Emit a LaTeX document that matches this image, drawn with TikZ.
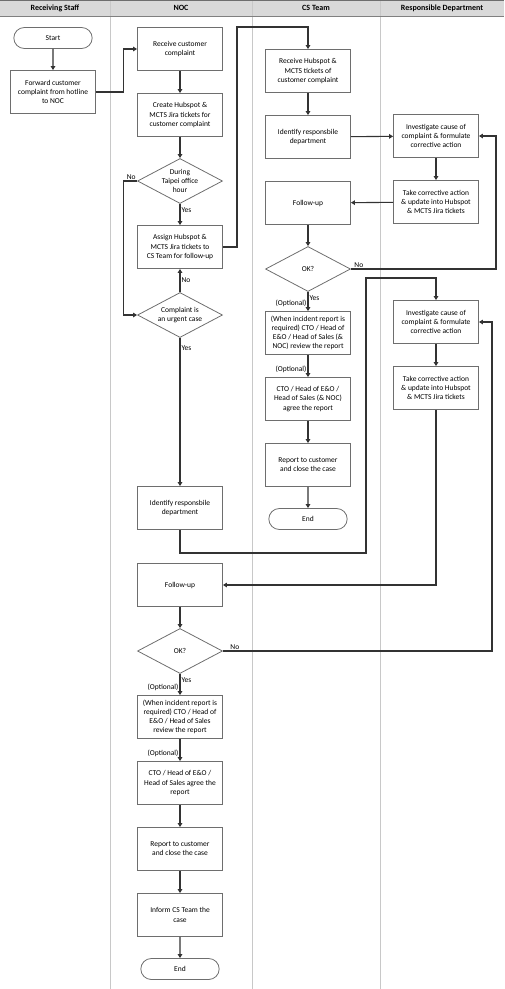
\documentclass[tikz,border=0pt]{standalone}
\usepackage{fontspec}
\setmainfont{Carlito}
\usepackage{xcolor}
\usetikzlibrary{arrows.meta, positioning, shapes.geometric, shapes.misc}
\definecolor{boxline}{HTML}{6E6E6E}
\definecolor{laneline}{HTML}{C8C8C8}
\definecolor{headfill}{HTML}{D9D9D9}
\tikzstyle{process} = [rectangle, minimum width=85pt, minimum height=43pt, align=center, draw=boxline, line width=0.8pt, font=\fontsize{7.5}{9.2}\selectfont]
\tikzstyle{decision} = [diamond, aspect=1.9, inner sep=0pt, minimum width=85pt, minimum height=45pt, align=center, draw=boxline, line width=0.8pt, font=\fontsize{7.5}{9.2}\selectfont]
\tikzstyle{terminal} = [rounded rectangle, minimum width=85pt, minimum height=21pt, draw=boxline, line width=0.8pt, font=\fontsize{7.5}{9.2}\selectfont]
\tikzstyle{arrow} = [line width=1.1pt, draw=black!80, -{Triangle[length=4pt, width=4.5pt]}]
\tikzstyle{lbl} = [font=\fontsize{7.5}{9}\selectfont, inner sep=1pt]

\begin{document}
\begin{tikzpicture}[x=1pt, y=-1pt, node distance=66pt]
\useasboundingbox (0,0) rectangle (504,989);
% Lanes
\fill[headfill] (0,0) rectangle (504,16);
\draw[laneline, line width=0.8pt] (110,0) -- (110,989) (252,0) -- (252,989) (380,0) -- (380,989);
\draw[boxline, line width=0.8pt] (0,0.5) -- (504,0.5);
\draw[black!50, line width=0.5pt] (0,16) -- (504,16);
\node[font=\bfseries\fontsize{8}{10}\selectfont] (h1) at (55,8) {Receiving Staff};
\node[font=\bfseries\fontsize{8}{10}\selectfont] (h2) at (181,8) {NOC};
\node[font=\bfseries\fontsize{8}{10}\selectfont] (h3) at (316,8) {CS Team};
\node[font=\bfseries\fontsize{8}{10}\selectfont] (h4) at (442,8) {Responsible Department};

% Receiving staff
\node (start) [terminal] at (53,38) {Start};
\node (fwd) [process, below of=start, yshift=12pt] {Forward customer\\complaint from hotline\\to NOC};

% NOC
\node (rec) [process] at (180,49) {Receive customer\\complaint};
\node (create) [process, below of=rec] {Create Hubspot \&\\MCTS Jira tickets for\\customer complaint};
\node (taipei) [decision, below of=create] {During\\Taipei office\\hour};
\node (assign) [process, below of=taipei] {Assign Hubspot \&\\MCTS Jira tickets to\\CS Team for follow-up};
\node (urgent) [decision, below of=assign, yshift=-2pt] {Complaint is\\an urgent case};
\node (nocid) [process] at (180,508) {Identify responsbile\\department};
\node (nocfollow) [process, below of=nocid, yshift=-11pt] {Follow-up};
\node (nocok) [decision, below of=nocfollow] {OK?};
\node (nocreview) [process, below of=nocok] {(When incident report is\\required) CTO / Head of\\E\&O / Head of Sales\\review the report};
\node (nocagree) [process, below of=nocreview] {CTO / Head of E\&O /\\Head of Sales agree the\\report};
\node (nocreport) [process, below of=nocagree] {Report to customer\\and close the case};
\node (inform) [process, below of=nocreport] {Inform CS Team the\\case};
\node (nocend) [terminal, below of=inform, yshift=12pt] {End};

% CS Team
\node (csrec) [process] at (308,71) {Receive Hubspot \&\\MCTS tickets of\\customer complaint};
\node (csid) [process, below of=csrec] {Identify responsbile\\department};
\node (csfollow) [process, below of=csid] {Follow-up};
\node (csok) [decision, below of=csfollow] {OK?};
\node (csreview) [process, below of=csok, yshift=2pt] {(When incident report is\\required) CTO / Head of\\E\&O / Head of Sales (\&\\NOC) review the report};
\node (csagree) [process, below of=csreview] {CTO / Head of E\&O /\\Head of Sales (\& NOC)\\agree the report};
\node (csreport) [process, below of=csagree] {Report to customer\\and close the case};
\node (csend) [terminal, below of=csreport, yshift=12pt] {End};

% Responsible department
\node (inv1) [process] at (436,136) {Investigate cause of\\complaint \& formulate\\corrective action};
\node (take1) [process, below of=inv1] {Take corrective action\\\& update into Hubspot\\\& MCTS Jira tickets};
\node (inv2) [process] at (436,322) {Investigate cause of\\complaint \& formulate\\corrective action};
\node (take2) [process, below of=inv2] {Take corrective action\\\& update into Hubspot\\\& MCTS Jira tickets};

% Bends
\coordinate (top1) at (237,27);
\coordinate (rt1) at (496,136);
\coordinate (lo1) at (366,553);
\coordinate (up1) at (366,278);
\coordinate (rt2) at (492,322);

% Paths
\draw [arrow] (start) -- (fwd);
\draw [arrow] (fwd.east) -- ++(28,0) |- (rec.west);
\draw [arrow] (rec) -- (create);
\draw [arrow] (create) -- (taipei);
\draw [arrow] (taipei) -- node[lbl, anchor=west, pos=0.3] {Yes} (assign);
\draw [arrow] (taipei.west) node[lbl, anchor=south east] {No} -- ++(-14,0) |- (urgent.west);
\draw [arrow] (urgent) -- node[lbl, anchor=west, pos=0.5] {No} (assign);
\draw [arrow] (urgent) -- node[lbl, anchor=west, pos=0.07] {Yes} (nocid);
\draw [arrow] (assign.east) -| (top1) -| (csrec.north);
\draw [arrow] (csrec) -- (csid);
\draw [arrow] (csid) -- (inv1);
\draw [arrow] (inv1) -- (take1);
\draw [arrow] (take1) -- (csfollow);
\draw [arrow] (csfollow) -- (csok);
\draw [arrow] (csok.east) node[lbl, anchor=south west, xshift=2pt] {No} -| (rt1) -- (inv1.east);
\draw [arrow] (csok) -- node[lbl, anchor=west, pos=0.3] {Yes} node[lbl, anchor=south east, pos=0.85] {(Optional)} (csreview);
\draw [arrow] (csreview) -- node[lbl, anchor=south east, pos=0.85] {(Optional)} (csagree);
\draw [arrow] (csagree) -- (csreport);
\draw [arrow] (csreport) -- (csend);
\draw [arrow] (nocid.south) |- (lo1) -- (up1) -| (inv2.north);
\draw [arrow] (inv2) -- (take2);
\draw [arrow] (take2.south) |- (nocfollow.east);
\draw [arrow] (nocfollow) -- (nocok);
\draw [arrow] (nocok.east) node[lbl, anchor=south west, xshift=6pt] {No} -| (rt2) -- (inv2.east);
\draw [arrow] (nocok) -- node[lbl, anchor=west, pos=0.3] {Yes} node[lbl, anchor=south east, pos=0.85] {(Optional)} (nocreview);
\draw [arrow] (nocreview) -- node[lbl, anchor=south east, pos=0.85] {(Optional)} (nocagree);
\draw [arrow] (nocagree) -- (nocreport);
\draw [arrow] (nocreport) -- (inform);
\draw [arrow] (inform) -- (nocend);

\end{tikzpicture}
\end{document}
